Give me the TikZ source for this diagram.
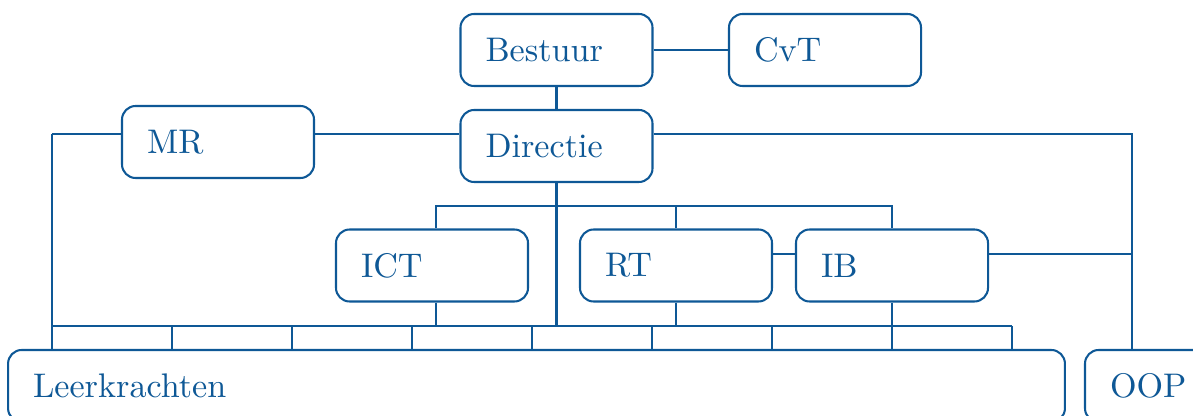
\documentclass[tikz,border=0pt]{standalone}
\usepackage{tikz}
\definecolor{orgblue}{RGB}{14,88,150}
\begin{document}
\begin{tikzpicture}[x=0.293pt, y=-0.293pt, line width=0.6pt, draw=orgblue, text=orgblue,
  unit/.style={draw=orgblue, fill=white, rounded corners=4pt, inner xsep=7.33pt,
    text width=41.6pt, minimum height=21.1pt, align=left}]
  \useasboundingbox (0,0) rectangle (1193,416);
  \clip (0,0) rectangle (1193,416);
  % helper coordinates
  \coordinate (lft) at (52,134);
  \coordinate (rgt) at (1132,134);
  \coordinate (topbus) at (436,206);
  \coordinate (botbus) at (52,326);
  \coordinate (side) at (772,254);
  % boxes
  \node[unit] (bestuur) at (556.5,50)  {Bestuur};
  \node[unit] (cvt)     at (825,50)    {CvT};
  \node[unit] (mr)      at (218,142)   {MR};
  \node[unit] (dir)     at (556.5,146) {Directie};
  \node[unit] (ict)     at (432,265.5) {ICT};
  \node[unit] (rt)      at (676,265.5) {RT};
  \node[unit] (ib)      at (892,265.5) {IB};
  \node[unit, text width=295pt] (lk) at (536.5,386) {Leerkrachten};
  \node[unit] (oop)     at (1181,386)  {OOP};
  % connectors
  \draw (bestuur.east) -- (cvt.west);
  \draw (bestuur.south) -- (dir.north);
  \draw (lft) -- (mr.west |- lft);
  \draw (mr.east |- lft) -- (dir.west |- lft);
  \draw (dir.east |- lft) -- (rgt) -- (rgt |- oop.north);
  \draw (lft) -- (lft |- lk.north);
  \draw (dir.south) -- (dir.south |- botbus);
  \draw (topbus |- ict.north) -- (topbus) -- (ib.north |- topbus) -- (ib.north);
  \draw (rt.north) -- (rt.north |- topbus);
  \draw (rt.east |- side) -- (ib.west |- side);
  \draw (ib.east |- side) -- (rgt |- side);
  \draw (topbus |- ict.south) -- (topbus |- botbus);
  \draw (rt.south) -- (rt.south |- botbus);
  \draw (ib.south) -- (ib.south |- botbus);
  \draw (botbus) -- (1012,326);
  \foreach \x in {52,172,...,1012}
    \draw (\x,326) -- (\x,326 |- lk.north);
\end{tikzpicture}
\end{document}
